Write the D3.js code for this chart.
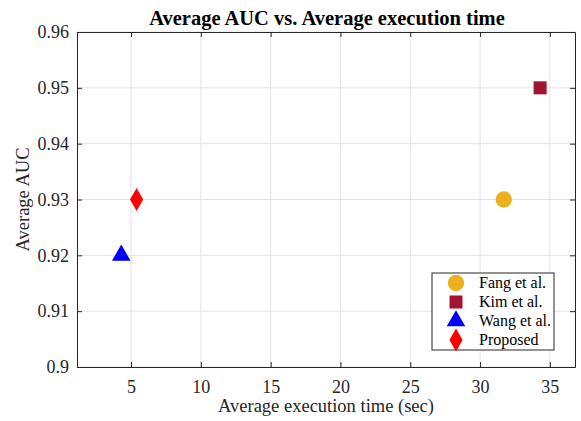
<!DOCTYPE html>
<html>
<head>
<meta charset="utf-8">
<script src="https://cdn.jsdelivr.net/npm/d3@7"></script>
<style>
  body { margin: 0; background: #fff; }
</style>
</head>
<body>
<svg width="581" height="421"></svg>
<script>
const methods = ["Fang et al.", "Kim et al.", "Wang et al.", "Proposed"];
const execTime = [31.7, 34.3, 4.3, 5.4];
const avgAuc = [0.93, 0.95, 0.92, 0.93];
const colors = ["#EDB120", "#A2142F", "#0000FF", "#FF0000"];
const shapes = [d3.symbolCircle, d3.symbolSquare, d3.symbolTriangle, d3.symbolDiamond];
const sizes = [210, 170, 150, 150];
const xTicks = [5, 10, 15, 20, 25, 30, 35];
const yTicks = [0.9, 0.91, 0.92, 0.93, 0.94, 0.95, 0.96];

const serif = "'Liberation Serif', 'Times New Roman', serif";
const svg = d3.select("svg");
const plotL = 77, plotR = 575, plotT = 32, plotB = 367;

const x = d3.scaleLinear().domain([1.13, 36.8]).range([plotL, plotR]);
const y = d3.scaleLinear().domain([0.9, 0.96]).range([plotB, plotT]);

// grid
svg.append("g").selectAll("line")
    .data(xTicks).enter().append("line")
    .attr("x1", d => x(d)).attr("x2", d => x(d))
    .attr("y1", plotT).attr("y2", plotB)
    .attr("stroke", "#e3e3e3").attr("stroke-width", 1);
svg.append("g").selectAll("line")
    .data(yTicks).enter().append("line")
    .attr("x1", plotL).attr("x2", plotR)
    .attr("y1", d => y(d)).attr("y2", d => y(d))
    .attr("stroke", "#e3e3e3").attr("stroke-width", 1);

// axes (ticks inside, box on)
const xAxis = svg.append("g").attr("transform", `translate(0,${plotB})`)
    .call(d3.axisBottom(x).tickValues(xTicks).tickSizeInner(-5).tickSizeOuter(0).tickPadding(13).tickFormat(d3.format("d")));
const xTop = svg.append("g").attr("transform", `translate(0,${plotT})`)
    .call(d3.axisTop(x).tickValues(xTicks).tickSizeInner(-5).tickSizeOuter(0).tickFormat(""));
const yAxis = svg.append("g").attr("transform", `translate(${plotL},0)`)
    .call(d3.axisLeft(y).tickValues(yTicks).tickSizeInner(-5).tickSizeOuter(0).tickPadding(8).tickFormat(d => String(+d.toFixed(2))));
const yRight = svg.append("g").attr("transform", `translate(${plotR},0)`)
    .call(d3.axisRight(y).tickValues(yTicks).tickSizeInner(-5).tickSizeOuter(0).tickFormat(""));

[xAxis, xTop, yAxis, yRight].forEach(g => {
    g.attr("font-family", null);
    g.select(".domain").attr("stroke", "#262626").attr("stroke-width", 1);
    g.selectAll(".tick line").attr("stroke", "#262626");
    g.selectAll(".tick text").attr("fill", "#262626")
        .style("font-family", serif).style("font-size", "18px");
});

// points
svg.append("g").selectAll("path")
    .data(methods).enter().append("path")
    .attr("transform", (d, i) => `translate(${x(execTime[i])},${y(avgAuc[i])})`)
    .attr("d", (d, i) => d3.symbol().type(shapes[i]).size(sizes[i])())
    .attr("fill", (d, i) => colors[i]);

// title and labels
svg.append("text")
    .attr("x", 327).attr("y", 25)
    .attr("text-anchor", "middle").attr("font-weight", "bold")
    .style("font-family", serif).style("font-size", "20.5px")
    .attr("fill", "#000")
    .text("Average AUC vs. Average execution time");

svg.append("text")
    .attr("x", (plotL + plotR) / 2).attr("y", 412)
    .attr("text-anchor", "middle").attr("fill", "#262626")
    .style("font-family", serif).style("font-size", "18.5px")
    .text("Average execution time (sec)");

svg.append("text")
    .attr("transform", `translate(29,${(plotT + plotB) / 2}) rotate(-90)`)
    .attr("text-anchor", "middle").attr("fill", "#262626")
    .style("font-family", serif).style("font-size", "18.5px")
    .text("Average AUC");

// legend
const legend = svg.append("g");
legend.append("rect")
    .attr("x", 432).attr("y", 273).attr("width", 122).attr("height", 77)
    .attr("fill", "#fff").attr("stroke", "#262626").attr("stroke-width", 1);
const rows = legend.selectAll("g")
    .data(methods).enter().append("g")
    .attr("transform", (d, i) => `translate(456,${283 + i * 19})`);
rows.append("path")
    .attr("d", (d, i) => d3.symbol().type(shapes[i]).size(sizes[i])())
    .attr("fill", (d, i) => colors[i]);
rows.append("text")
    .attr("x", 23).attr("y", 5).attr("fill", "#000")
    .style("font-family", serif).style("font-size", "16px")
    .text(d => d);
</script>
</body>
</html>
